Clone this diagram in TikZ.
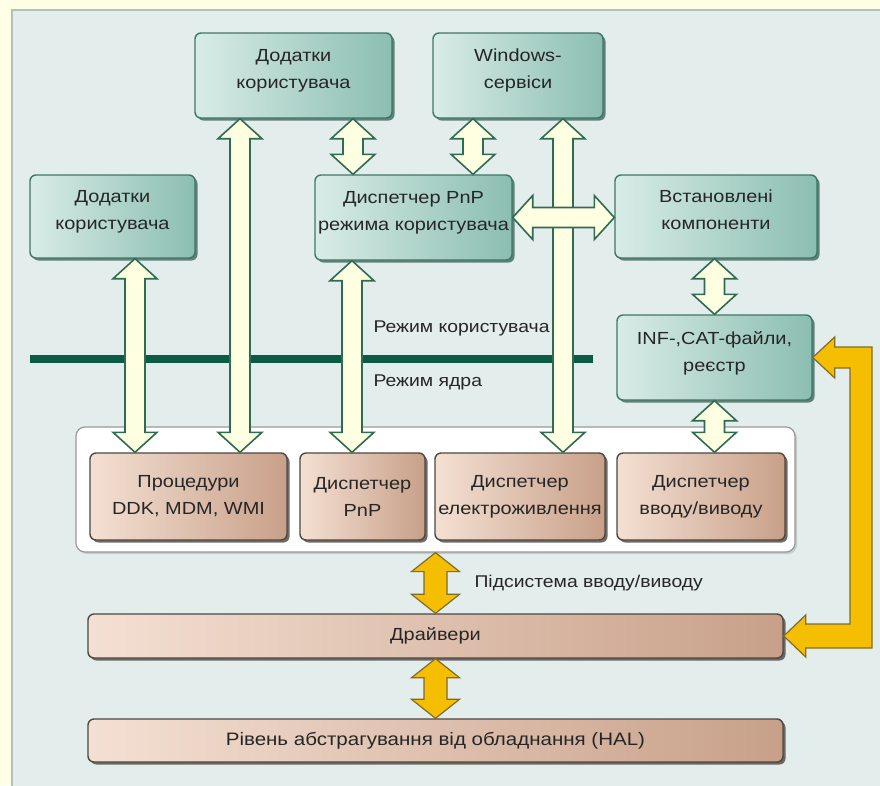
\documentclass[tikz,border=0pt]{standalone}
\usepackage{fontspec}
\setmainfont{Liberation Sans}[FakeStretch=1.14]
\usepackage{tikz}
\usetikzlibrary{positioning, calc, shadows}

\definecolor{outerbg}{HTML}{FFFFE6}
\definecolor{panelbg}{HTML}{E3EDEB}
\definecolor{panelline}{HTML}{AFC3BB}
\definecolor{tealL}{HTML}{D8ECE6}
\definecolor{tealR}{HTML}{8BBEB1}
\definecolor{tealline}{HTML}{3F7767}
\definecolor{brownL}{HTML}{F4E0D3}
\definecolor{brownR}{HTML}{C8A089}
\definecolor{brownline}{HTML}{4E4742}
\definecolor{creamfill}{HTML}{FFFFE2}
\definecolor{arrowline}{HTML}{2F6B52}
\definecolor{goldfill}{HTML}{F6BE00}
\definecolor{goldline}{HTML}{7D6C2C}
\definecolor{modeline}{HTML}{0B5B44}
\definecolor{txt}{HTML}{262626}

\newcommand{\boxfont}{\fontsize{17.5}{27}\selectfont}

\tikzset{
    wh/.style 2 args={minimum width=#1pt, minimum height=#2pt},
    usrbox/.style={rectangle, rounded corners=6pt, draw=tealline, line width=1.4pt,
        left color=tealL, right color=tealR, text=txt, font=\boxfont, align=center, inner sep=0pt,
        text depth=13pt,
        drop shadow={shadow xshift=2.5pt, shadow yshift=-2.5pt, fill=tealline!70!black, opacity=0.7}},
    krnbox/.style={rectangle, rounded corners=6pt, draw=brownline, line width=1.4pt,
        left color=brownL, right color=brownR, text=txt, font=\boxfont, align=center, inner sep=0pt,
        drop shadow={shadow xshift=2.5pt, shadow yshift=-2.5pt, fill=brownline, opacity=0.8}},
    kpanel/.style={rectangle, rounded corners=9pt, draw=gray!80, line width=1.2pt, fill=white,
        drop shadow={shadow xshift=2pt, shadow yshift=-2pt, fill=gray, opacity=0.3}},
    modetext/.style={anchor=west, text=txt, font=\fontsize{17}{27}\selectfont},
    % fat double-headed arrow: head length, head half width, shaft half width
    fatarrow/.style n args={3}{line join=miter,
        to path={let \p1=($(\tikztotarget)-(\tikztostart)$), \n1={veclen(\x1,\y1)}, \n2={atan2(\y1,\x1)} in
            {[shift={(\tikztostart)}, rotate=\n2]
            (0,0) -- (#1,#2) -- (#1,#3) -- (\n1-#1,#3) -- (\n1-#1,#2) -- (\n1,0)
            -- (\n1-#1,-#2) -- (\n1-#1,-#3) -- (#1,-#3) -- (#1,-#2) -- cycle}}},
    creamarrow/.style={fatarrow={20}{22}{10}, draw=arrowline, fill=creamfill, line width=1.6pt},
    goldarrow/.style={fatarrow={19}{24}{11.5}, draw=goldline, fill=goldfill, line width=1.2pt},
}

\begin{document}
\begin{tikzpicture}[x=1pt, y=1pt]
    \useasboundingbox (0,0) rectangle (880,-785);

    % Background and panel
    \fill[outerbg] (0,0) rectangle (880,-785);
    \draw[panelline, fill=panelbg, line width=1.5pt] (12,-10) rectangle (886,-791);

    % User / kernel mode border
    \draw[modeline, line width=8pt] (30,-359) -- (593,-359);
    \node[modetext] (umode) at (370,-328) {Режим користувача};
    \node[modetext] (kmode) at (370,-382) {Режим ядра};

    % User mode components
    \node[usrbox, wh={197}{85}] (ut) at (293.5,-75.5) {Додатки\\користувача};
    \node[usrbox, wh={170}{85}] (ws) at (518,-75.5) {Windows-\\сервіси};
    \node[usrbox, wh={165}{83}] (ul) at (112.5,-216.5) {Додатки\\користувача};
    \node[usrbox, wh={197}{85}] (pu) at (413.5,-217.5) {Диспетчер PnP\\режима користувача};
    \node[usrbox, wh={202}{83}] (ic) at (716,-216.5) {Встановлені\\компоненти};
    \node[usrbox, wh={195}{85}] (inf) at (714.5,-357.5) {INF-,CAT-файли,\\реєстр};

    % Kernel mode components
    \node[kpanel, wh={719}{125}] (kp) at (435.5,-489.5) {};
    \node[krnbox, wh={197}{87}] (pr) at (188.5,-496.5) {Процедури\\DDK, MDM, WMI};
    \node[krnbox, wh={125}{87}] (pp) at (362.5,-496.5) {Диспетчер\\PnP};
    \node[krnbox, wh={170}{87}] (pe) at (520,-496.5) {Диспетчер\\електроживлення};
    \node[krnbox, wh={168}{87}] (pio) at (701,-496.5) {Диспетчер\\вводу/виводу};

    % Lower layers
    \node[krnbox, wh={695}{44}] (drv) at (435.5,-636) {Драйвери};
    \node[krnbox, wh={695}{43}, font=\fontsize{18}{27}\selectfont] (hal) at (435.5,-740.5) {Рівень абстрагування від обладнання (HAL)};
    \node[modetext] (iosub) at (471,-583) {Підсистема вводу/виводу};

    % Arrow end points
    \coordinate (a1) at ([xshift=22.5pt]ul.south);
    \coordinate (a2) at ([xshift=-53.5pt]ut.south);
    \coordinate (a3) at ([xshift=-61.5pt]pu.south);
    \coordinate (a4) at ([xshift=45pt]ws.south);
    \coordinate (s1) at ([xshift=59.5pt]ut.south);
    \coordinate (s2) at ([xshift=-45pt]ws.south);

    % Long arrows across the mode border
    \draw[creamarrow] (a1) to (a1 |- pr.north);
    \draw[creamarrow] (a2) to (a2 |- pr.north);
    \draw[creamarrow] (a3) to (a3 |- pp.north);
    \draw[creamarrow] (a4) to (a4 |- pe.north);

    % Short arrows
    \draw[creamarrow] (s1) to (s1 |- pu.north);
    \draw[creamarrow] (s2) to (s2 |- pu.north);
    \draw[creamarrow] (pu.east) to (pu.east -| ic.west);
    \draw[creamarrow] (inf.north |- ic.south) to (inf.north);
    \draw[creamarrow] (inf.south) to (inf.south |- pio.north);

    % I/O subsystem arrows
    \draw[goldarrow] (kp.south) to (kp.south |- drv.north);
    \draw[goldarrow] (drv.south) to (drv.south |- hal.north);
    \draw[goldline, fill=goldfill, line width=1.2pt, line join=miter] let \p1=(drv.east), \p2=(inf.east) in
        (\p1) -- (\x1+22,\y1+21) -- (\x1+22,\y1+12) -- (850pt,\y1+12) -- (850pt,\y2-10.5)
        -- (\x2+22,\y2-10.5) -- (\x2+22,\y2-20.5) -- (\p2) -- (\x2+22,\y2+20.5) -- (\x2+22,\y2+10.5)
        -- (872pt,\y2+10.5) -- (872pt,\y1-12) -- (\x1+22,\y1-12) -- (\x1+22,\y1-21) -- cycle;
\end{tikzpicture}
\end{document}
